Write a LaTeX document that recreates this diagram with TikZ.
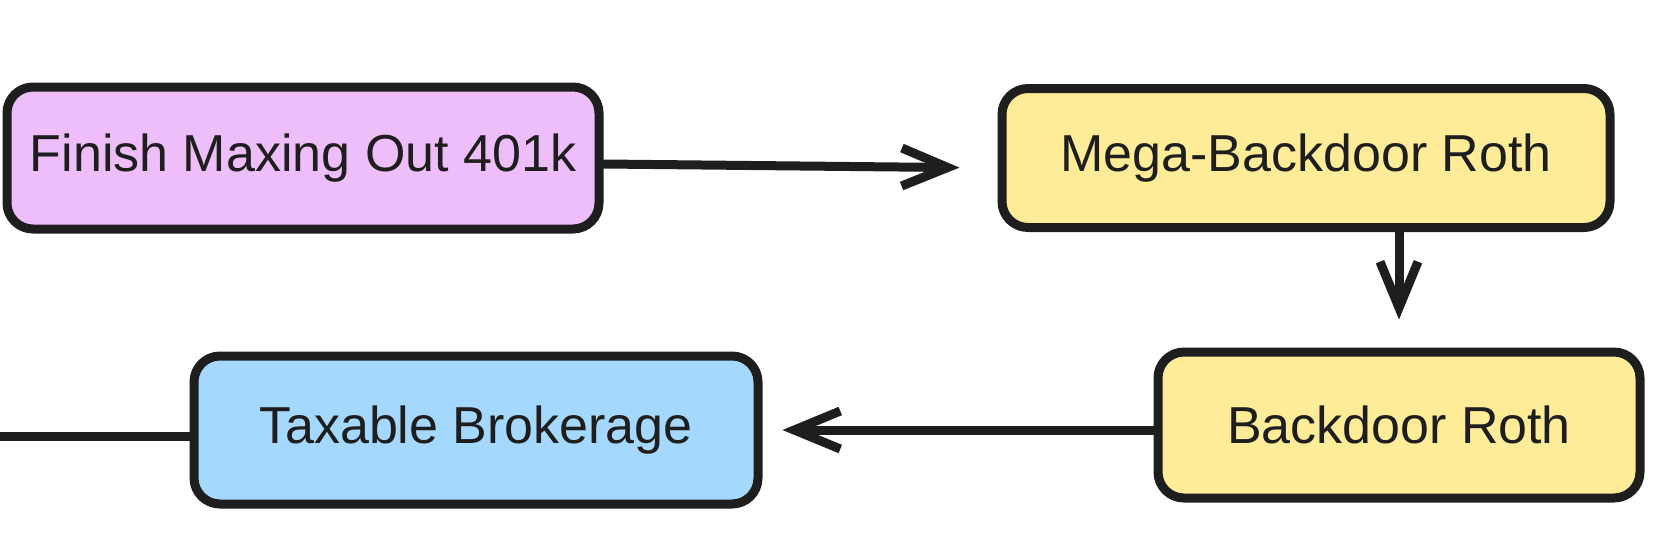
\documentclass[tikz,border=0pt]{standalone}
\usepackage{fontspec}
\setmainfont{Liberation Sans}
\usetikzlibrary{arrows.meta}
\definecolor{ink}{HTML}{1E1E1E}
\definecolor{purplefill}{HTML}{EEBEFA}
\definecolor{yellowfill}{HTML}{FFEC99}
\definecolor{bluefill}{HTML}{A5D8FF}
\tikzset{
  box/.style={draw=ink, line width=9pt, rounded corners=26pt, rectangle,
    inner sep=0pt, text=ink, font=\fontsize{52}{60}\selectfont},
  conn/.style={draw=ink, line width=9pt, line cap=round, line join=round},
  arr/.style={conn, -{Straight Barb[length=46pt,width=38pt,line width=9pt]}}
}
\begin{document}
\begin{tikzpicture}[x=1pt,y=-1pt]
\useasboundingbox (0,0) rectangle (1666,536);
\node[box, fill=purplefill, minimum width=592pt, minimum height=142pt] (A) at (303,158) {Finish Maxing Out 401k};
\node[box, fill=yellowfill, minimum width=608pt, minimum height=139pt] (B) at (1306,158) {Mega-Backdoor Roth};
\node[box, fill=yellowfill, minimum width=482pt, minimum height=146pt] (C) at (1399,425) {Backdoor Roth};
\node[box, fill=bluefill, minimum width=564pt, minimum height=148pt] (D) at (476,430) {Taxable Brokerage};
\coordinate (L) at (-10,436);
\draw[arr, shorten >=38pt] ([yshift=-6pt]A.east) -- ([yshift=-10pt]B.west);
\draw[arr, shorten >=28pt] (B.south -| C.north) -- (C.north);
\draw[arr, shorten >=20pt] ([yshift=-5pt]C.west) -- (D.east);
\draw[conn] (L) -- ([yshift=-6pt]D.west);
\end{tikzpicture}
\end{document}
